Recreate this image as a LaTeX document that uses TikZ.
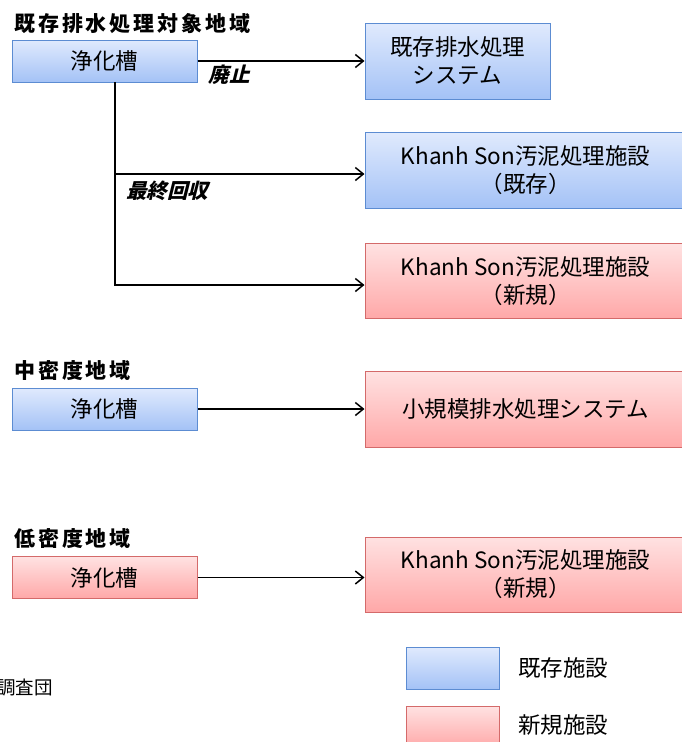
\documentclass[tikz,border=0pt]{standalone}
\usepackage{fontspec}
\setmainfont{Noto Sans CJK JP}
\newfontfamily\cjkslant{Noto Sans CJK JP}[FakeSlant=0.25]
\newfontfamily\cjkspaced{Noto Sans CJK JP}[LetterSpace=14]
\usetikzlibrary{arrows.meta}
\definecolor{bluetop}{HTML}{E0EAFD}
\definecolor{bluebot}{HTML}{A4C2F6}
\definecolor{blueline}{HTML}{5C8CD2}
\definecolor{redtop}{HTML}{FFE2E2}
\definecolor{redbot}{HTML}{FFA8A8}
\definecolor{redline}{HTML}{D46A6A}
\tikzset{
  box/.style={rectangle, line width=1pt, inner sep=0pt, align=center, font=\fontsize{22.5}{28}\selectfont},
  bluebox/.style={box, draw=blueline, top color=bluetop, bottom color=bluebot},
  redbox/.style={box, draw=redline, top color=redtop, bottom color=redbot},
  heading/.style={anchor=west, inner sep=0pt, font=\fontsize{21}{24}\selectfont\cjkspaced\bfseries},
  edgelabel/.style={inner sep=0pt, font=\fontsize{20.5}{24}\selectfont\cjkslant\bfseries},
  conn/.style={line width=1.8pt, -{Straight Barb[length=8pt,width=13pt,line width=1.5pt]}},
  plain/.style={line width=1.8pt},
  legendtext/.style={anchor=west, inner sep=0pt, font=\fontsize{22.5}{26}\selectfont}
}
\begin{document}
\begin{tikzpicture}[x=1pt,y=-1pt]
\useasboundingbox (0,0) rectangle (682,742);
% region 1
\node[heading] (h1) at (14,24) {既存排水処理対象地域};
\node[bluebox, minimum width=185pt, minimum height=42pt] (box1) at (104.5,61) {浄化槽};
\node[bluebox, minimum width=185pt, minimum height=76pt] (boxA) at (457.5,61) {既存排水処理\\システム};
\node[bluebox, minimum width=321pt, minimum height=76pt] (boxB) at (525.5,170) {Khanh Son汚泥処理施設\\（既存）};
\node[redbox, minimum width=321pt, minimum height=75pt] (boxC) at (525.5,281) {Khanh Son汚泥処理施設\\（新規）};
\coordinate (j0) at (115,82);
\coordinate (j1) at (115,174);
\coordinate (j2) at (115,285);
\draw[conn] (box1.east) -- (boxA.west);
\draw[plain] (j0) -- (j2);
\draw[conn] (j1) -- (j1 -| boxB.west);
\draw[conn] ([xshift=-0.9pt]j2) -- (j2 -| boxC.west);
\node[edgelabel] (l1) at (229,75) {廃止};
\node[edgelabel] (l2) at (167,191) {最終回収};
% region 2
\node[heading] (h2) at (14,371) {中密度地域};
\node[bluebox, minimum width=185pt, minimum height=42pt] (box2) at (104.5,409) {浄化槽};
\node[redbox, minimum width=321pt, minimum height=76pt] (boxD) at (525.5,409) {小規模排水処理システム};
\draw[conn] (box2.east) -- (box2.east -| boxD.west);
% region 3
\node[heading] (h3) at (14,539) {低密度地域};
\node[redbox, minimum width=185pt, minimum height=42pt] (box3) at (104.5,577.5) {浄化槽};
\node[redbox, minimum width=321pt, minimum height=75pt] (boxE) at (525.5,574.5) {Khanh Son汚泥処理施設\\（新規）};
\draw[conn] (box3.east) -- (box3.east -| boxE.west);
% source note (cut off at left, as in the reference)
\node[anchor=east, inner sep=0pt, font=\fontsize{18.5}{20}\selectfont] (src) at (53,688) {調査団};
% legend
\node[bluebox, minimum width=93pt, minimum height=42pt] (legB) at (452.5,668) {};
\node[redbox, minimum width=93pt, minimum height=42pt] (legR) at (452.5,727) {};
\node[legendtext] (legBt) at (518,668) {既存施設};
\node[legendtext] (legRt) at (518,725) {新規施設};
\end{tikzpicture}
\end{document}
